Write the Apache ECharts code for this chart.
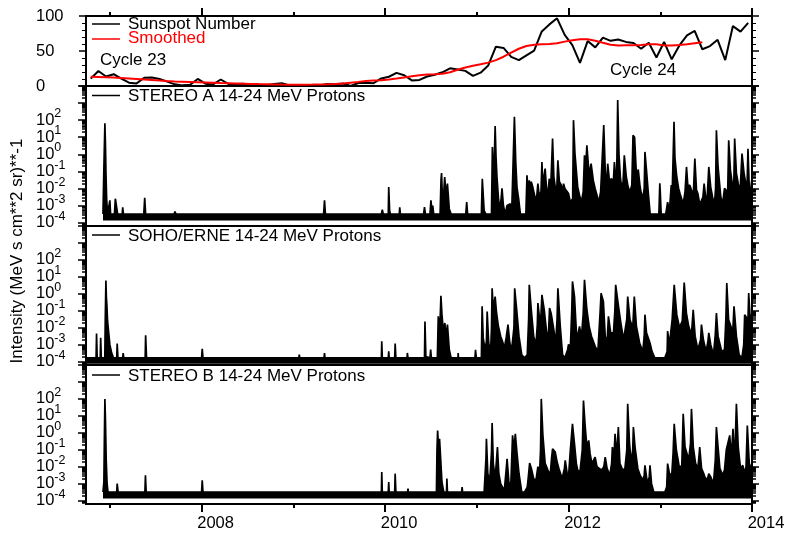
<!DOCTYPE html>
<html>
<head>
<meta charset="utf-8">
<title>Sunspots and 14-24 MeV protons, 2006-2014</title>
<script src="https://cdn.jsdelivr.net/npm/echarts@6/dist/echarts.min.js"></script>
<style>
  html, body { margin: 0; padding: 0; background: #fff; }
  #chart { width: 787px; height: 535px; }
</style>
</head>
<body>
<div id="chart"></div>
<script>
// ---- Monthly sunspot number, Oct 2006 .. Dec 2013 ----
const sunspotStart = 2006 + 9 / 12;            // October 2006
const sunspotMonthly = [
  10.5, 21.4, 13.6,
  16.9, 10.6, 4.8, 3.7, 11.7, 12.0, 10.0, 6.2, 2.4, 0.9, 1.7, 10.1,
  3.3, 2.1, 9.3, 2.9, 2.9, 3.1, 0.5, 0.5, 1.1, 2.9, 4.1, 0.8,
  1.5, 1.4, 0.7, 1.2, 2.9, 2.6, 3.5, 0.0, 4.3, 4.8, 4.1, 10.8,
  13.2, 18.8, 15.4, 8.0, 8.7, 13.6, 16.1, 19.6, 25.2, 23.5, 21.6, 14.5,
  19.0, 29.4, 56.2, 54.4, 41.6, 37.0, 43.8, 50.6, 78.0, 88.0, 96.7, 73.0,
  58.3, 33.1, 64.2, 55.2, 69.0, 64.5, 66.5, 63.0, 61.4, 53.3, 61.8, 40.8,
  62.9, 38.1, 57.9, 72.4, 78.7, 52.5, 57.0, 66.0, 37.0, 85.6, 77.6, 90.3
];
// 13-month smoothed sunspot number, Oct 2006 .. Jun 2013
const smoothedMonthly = [
  13.2, 12.8, 12.4,
  12.0, 11.4, 10.8, 10.1, 9.3, 8.6, 7.9, 7.2, 6.6, 6.2, 5.8, 5.4,
  5.0, 4.6, 4.2, 3.9, 3.6, 3.3, 3.0, 2.7, 2.5, 2.3, 2.0, 1.8,
  1.8, 1.9, 2.0, 2.2, 2.4, 2.8, 3.6, 4.8, 5.9, 7.1, 7.7, 8.3,
  9.3, 10.6, 12.3, 14.0, 15.5, 16.4, 16.7, 17.4, 19.6, 23.2, 26.5, 28.8,
  31.0, 33.4, 36.9, 41.8, 47.6, 53.2, 57.2, 59.0, 59.5, 59.9, 61.1, 63.4,
  65.5, 66.9, 66.8, 64.6, 61.7, 58.9, 57.8, 58.2, 58.1, 58.6, 59.7, 59.6,
  57.9, 58.0, 58.6, 59.5, 61.0, 62.5
];

// ---- 14-24 MeV proton intensity, upper envelope: [decimal year, log10 intensity] ----
// Each panel is filled down to its instrument background floor.
const staFloor = -3.88;
const staLogFlux = [
  [2006.925,-3.5],[2006.935,-0.8],[2006.946,1.82],[2006.952,0.6],[2006.958,-1.2],[2006.965,-2.6],[2006.975,-3.5],
  [2006.995,-3.5],[2007.0,-2.7],[2007.008,-3.5],[2007.05,-3.5],[2007.06,-2.6],[2007.075,-2.65],[2007.085,-3.5],[2007.135,-3.5],[2007.14,-3.1],[2007.148,-3.5],
  [2007.37,-3.5],[2007.38,-2.55],[2007.39,-3.5],
  [2007.7,-3.5],[2007.71,-3.35],[2007.72,-3.5],[2008.87,-3.5],[2008.88,-3.4],[2008.89,-3.5],
  [2009.33,-3.5],[2009.34,-2.7],[2009.35,-3.5],
  [2009.96,-3.5],[2009.97,-3.25],[2009.98,-3.5],[2010.035,-3.5],[2010.04,-1.92],[2010.05,-3.3],[2010.058,-3.5],
  [2010.155,-3.5],[2010.16,-3.1],[2010.167,-3.5],
  [2010.42,-3.5],[2010.43,-3.1],[2010.44,-3.5],[2010.49,-3.5],[2010.5,-2.7],[2010.51,-3.2],[2010.52,-3.0],[2010.53,-3.5],
  [2010.6,-3.5],[2010.61,-1.5],[2010.616,-1.1],[2010.625,-2.5],[2010.64,-2.2],[2010.65,-1.33],[2010.665,-2.4],[2010.68,-1.72],[2010.7,-3.2],[2010.72,-3.5],
  [2010.88,-3.5],[2010.89,-2.8],[2010.9,-3.5],
  [2011.05,-3.5],[2011.06,-1.43],[2011.08,-3.3],[2011.1,-3.5],[2011.16,-3.5],[2011.17,0.43],[2011.18,-1.0],[2011.19,-0.5],[2011.2,1.65],[2011.21,-0.2],[2011.22,-1.33],[2011.235,-2.5],[2011.25,-3.3],[2011.265,-2.6],[2011.275,-2.0],[2011.29,-3.0],[2011.31,-3.5],
  [2011.33,-3.0],[2011.34,-2.9],[2011.366,-2.9],[2011.38,-3.5],[2011.4,-3.5],[2011.41,2.2],[2011.425,-0.5],[2011.438,-1.92],[2011.456,-2.6],[2011.475,-3.49],[2011.5,-3.5],[2011.535,-3.5],[2011.547,-1.23],[2011.56,-2.2],[2011.572,-1.53],[2011.585,-2.0],[2011.594,-1.6],[2011.61,-1.92],[2011.63,-2.4],[2011.65,-2.7],[2011.666,-1.72],[2011.68,-2.4],[2011.7,-2.2],[2011.71,-0.45],[2011.72,-1.8],[2011.745,-0.84],[2011.76,-2.0],[2011.775,-2.3],[2011.79,-1.43],[2011.805,-2.1],[2011.815,-2.2],[2011.826,0.92],[2011.84,-1.3],[2011.855,-1.92],[2011.87,-2.3],[2011.884,-0.35],[2011.9,-1.6],[2011.92,-1.8],[2011.935,-2.2],[2011.946,-1.72],[2011.96,-2.0],[2011.98,-1.92],[2012.0,-2.3],[2012.02,-2.8],[2012.045,-2.6],
  [2012.054,2.0],[2012.07,0.04],[2012.1,-1.92],[2012.12,-2.4],[2012.14,-2.8],[2012.16,-2.2],[2012.174,-0.06],[2012.185,-1.0],[2012.2,0.53],[2012.215,-0.55],[2012.23,-1.2],[2012.246,-0.55],[2012.27,-1.53],[2012.29,-2.0],[2012.31,-2.4],[2012.33,-2.8],[2012.35,-2.2],[2012.37,-2.2],[2012.384,1.71],[2012.4,-0.9],[2012.415,-2.1],[2012.427,-0.55],[2012.445,-1.5],[2012.47,-1.43],[2012.485,-2.0],[2012.5,-0.45],[2012.515,-1.5],[2012.525,-1.2],[2012.536,3.18],[2012.55,0.0],[2012.565,-1.33],[2012.58,-2.0],[2012.595,-1.6],[2012.608,-0.06],[2012.63,-1.33],[2012.65,-1.92],[2012.67,-2.2],[2012.69,-1.8],[2012.703,1.12],[2012.72,1.0],[2012.74,-1.2],[2012.76,-0.9],[2012.78,-1.9],[2012.79,-2.2],[2012.81,-2.6],[2012.825,-2.0],[2012.833,0.14],[2012.85,-0.94],[2012.87,-2.3],[2012.89,-3.5],[2012.985,-3.5],[2012.995,-1.7],[2013.0,-2.2],[2013.01,-3.5],
  [2013.06,-3.5],[2013.08,-2.8],[2013.1,-3.3],[2013.12,-1.8],[2013.13,-2.3],[2013.15,1.9],[2013.16,-0.2],[2013.18,-1.33],[2013.2,-2.0],[2013.215,-2.3],[2013.23,-2.4],[2013.25,-2.9],[2013.27,-2.2],[2013.286,-0.74],[2013.3,-1.8],[2013.322,-1.82],[2013.34,-2.1],[2013.36,-2.4],[2013.377,-0.25],[2013.395,-2.1],[2013.41,-2.3],[2013.43,-2.9],[2013.45,-2.7],[2013.465,-2.5],[2013.478,-1.72],[2013.495,-2.5],[2013.51,-2.7],[2013.529,-0.74],[2013.55,-1.92],[2013.57,-2.5],[2013.59,-3.0],[2013.603,-2.0],[2013.612,1.41],[2013.63,-0.74],[2013.66,-2.5],[2013.68,-2.9],[2013.7,-2.0],[2013.72,-1.92],[2013.735,-2.2],[2013.746,0.82],[2013.765,-0.94],[2013.785,-1.7],[2013.8,-2.2],[2013.811,0.92],[2013.83,-1.1],[2013.85,-1.72],[2013.87,-2.2],[2013.891,0.04],[2013.913,-1.1],[2013.93,-1.2],[2013.945,-2.1],[2013.956,0.33],[2013.97,-1.92],[2013.985,-2.1],[2013.998,-1.5]
];

const sohoFloor = -4.12;
const sohoLogFlux = [
  [2006.74,-3.78],[2006.85,-3.78],[2006.855,-2.35],[2006.862,-3.78],[2006.895,-3.78],[2006.9,-2.59],[2006.907,-3.78],[2006.945,-3.78],[2006.95,-1.5],[2006.957,0.78],[2006.962,-0.2],[2006.967,-0.6],[2006.975,-1.6],[2006.985,-2.16],[2007.0,-3.0],[2007.02,-3.5],[2007.04,-3.78],
  [2007.075,-3.78],[2007.08,-2.94],[2007.088,-3.78],[2007.14,-3.78],[2007.145,-3.5],[2007.152,-3.78],
  [2007.385,-3.78],[2007.39,-2.45],[2007.4,-3.78],
  [2008.0,-3.78],[2008.007,-3.24],[2008.015,-3.78],
  [2009.06,-3.78],[2009.065,-3.59],[2009.07,-3.78],
  [2009.335,-3.78],[2009.34,-3.5],[2009.345,-3.78],
  [2009.96,-3.78],[2009.964,-2.8],[2009.97,-3.78],[2010.035,-3.78],[2010.04,-3.39],[2010.045,-3.78],[2010.105,-3.78],[2010.11,-2.94],[2010.118,-3.78],
  [2010.24,-3.78],[2010.243,-3.49],[2010.25,-3.78],
  [2010.43,-3.78],[2010.435,-1.63],[2010.445,-3.7],[2010.49,-3.78],[2010.497,-3.29],[2010.505,-3.78],
  [2010.57,-3.78],[2010.58,-1.33],[2010.595,-2.4],[2010.609,-0.12],[2010.62,-1.2],[2010.635,-2.2],[2010.652,-1.72],[2010.665,-2.6],[2010.68,-1.82],[2010.7,-3.3],[2010.72,-3.78],
  [2010.795,-3.78],[2010.797,-3.49],[2010.8,-3.78],
  [2010.98,-3.78],[2010.986,-3.3],[2010.995,-3.78],
  [2011.05,-3.78],[2011.058,-0.74],[2011.07,-2.6],[2011.09,-3.3],[2011.105,-2.8],[2011.113,-1.04],[2011.13,-2.9],[2011.15,-3.5],[2011.16,-2.0],[2011.167,0.33],[2011.18,-0.9],[2011.2,-0.16],[2011.215,-1.1],[2011.235,-1.9],[2011.26,-2.5],[2011.28,-2.8],[2011.3,-3.2],[2011.32,-2.6],[2011.34,-1.82],[2011.36,-2.9],[2011.38,-3.3],[2011.405,-2.0],[2011.413,0.33],[2011.435,-0.94],[2011.46,-2.5],[2011.49,-3.6],[2011.52,-3.78],[2011.55,-3.6],[2011.565,-1.5],[2011.572,0.53],[2011.594,-0.94],[2011.62,-2.5],[2011.645,-3.0],[2011.66,-1.8],[2011.666,-0.55],[2011.685,-1.5],[2011.7,-1.2],[2011.71,-0.06],[2011.735,-0.94],[2011.76,-2.2],[2011.78,-2.6],[2011.793,-0.84],[2011.81,-1.14],[2011.836,-2.0],[2011.86,-2.9],[2011.875,-1.5],[2011.884,0.33],[2011.91,-1.92],[2011.935,-3.6],[2011.96,-3.78],[2011.99,-3.3],
  [2012.0,-2.98],[2012.02,-3.2],[2012.035,-1.0],[2012.043,0.73],[2012.065,-0.16],[2012.09,-2.7],[2012.12,-1.92],[2012.14,-2.6],[2012.16,-1.2],[2012.174,0.82],[2012.2,-0.94],[2012.225,-1.92],[2012.25,-2.5],[2012.29,-3.1],[2012.32,-3.4],[2012.345,-1.0],[2012.355,0.04],[2012.38,-0.45],[2012.4,-2.5],[2012.42,-2.9],[2012.435,-1.33],[2012.46,-2.3],[2012.49,-2.3],[2012.505,-1.0],[2012.514,0.53],[2012.54,-0.55],[2012.57,-1.72],[2012.6,-2.7],[2012.635,-1.5],[2012.645,-0.16],[2012.67,-1.53],[2012.7,-2.0],[2012.717,-0.16],[2012.74,-1.92],[2012.775,-2.9],[2012.81,-3.4],[2012.825,-2.5],[2012.833,-1.23],[2012.85,-2.3],[2012.888,-2.9],[2012.91,-3.4],[2012.94,-3.78],
  [2013.05,-3.78],[2013.075,-3.4],[2013.08,-2.2],[2013.1,-3.0],[2013.13,-1.5],[2013.152,0.53],[2013.18,-1.23],[2013.21,-2.0],[2013.24,-1.6],[2013.261,0.67],[2013.285,-1.14],[2013.31,-1.92],[2013.34,-2.4],[2013.359,-0.94],[2013.38,-2.5],[2013.41,-3.3],[2013.44,-2.7],[2013.449,-1.82],[2013.47,-2.7],[2013.5,-3.4],[2013.52,-2.8],[2013.529,-2.3],[2013.55,-3.0],[2013.58,-3.6],[2013.6,-2.4],[2013.612,-1.14],[2013.63,-2.5],[2013.67,-3.4],[2013.7,-3.3],[2013.715,-1.5],[2013.725,0.63],[2013.745,-1.53],[2013.77,-1.92],[2013.79,-2.3],[2013.804,-0.74],[2013.83,-2.5],[2013.86,-3.6],[2013.89,-3.78],[2013.91,-3.0],[2013.92,-1.23],[2013.94,-1.4],[2013.955,-1.8],[2013.964,0.04],[2013.98,-1.5],[2013.998,-1.2]
];

const stbFloor = -3.88;
const stbLogFlux = [
  [2006.925,-3.5],[2006.935,-2.9],[2006.94,-0.5],[2006.946,2.0],[2006.952,0.8],[2006.96,-1.53],[2006.97,-3.0],[2006.98,-3.5],
  [2007.075,-3.5],[2007.08,-3.0],[2007.09,-3.5],
  [2007.382,-3.5],[2007.388,-2.5],[2007.396,-3.5],
  [2008.0,-3.5],[2008.007,-2.8],[2008.015,-3.5],
  [2009.96,-3.5],[2009.964,-2.31],[2009.97,-3.5],[2010.035,-3.5],[2010.04,-2.9],[2010.045,-3.5],[2010.105,-3.5],[2010.11,-2.41],[2010.118,-3.5],
  [2010.245,-3.5],[2010.25,-3.29],[2010.255,-3.5],
  [2010.56,-3.5],[2010.566,-1.0],[2010.573,0.14],[2010.585,-1.0],[2010.594,-0.35],[2010.607,-1.6],[2010.62,-2.9],[2010.64,-3.5],[2010.67,-3.5],[2010.674,-2.7],[2010.68,-3.5],
  [2010.835,-3.5],[2010.84,-3.2],[2010.845,-3.5],
  [2011.08,-3.5],[2011.1,-1.5],[2011.105,-0.35],[2011.12,-2.4],[2011.14,-2.9],[2011.16,-1.2],[2011.167,0.57],[2011.18,-1.8],[2011.2,-2.7],[2011.215,-1.6],[2011.225,-0.84],[2011.24,-2.4],[2011.26,-3.0],[2011.28,-3.2],[2011.3,-3.4],[2011.32,-2.2],[2011.33,-1.53],[2011.35,-2.9],[2011.37,-3.2],[2011.385,-0.9],[2011.39,-0.15],[2011.405,-1.0],[2011.42,-0.06],[2011.435,-1.0],[2011.46,-2.4],[2011.49,-3.5],[2011.52,-3.5],[2011.55,-3.2],[2011.56,-2.7],[2011.576,-1.78],[2011.595,-2.1],[2011.62,-2.7],[2011.645,-2.8],[2011.666,-2.0],[2011.685,-2.3],[2011.695,-1.0],[2011.703,2.0],[2011.72,-0.1],[2011.745,-1.8],[2011.775,-2.2],[2011.8,-2.5],[2011.815,-1.5],[2011.826,-0.94],[2011.855,-1.14],[2011.875,-1.7],[2011.895,-2.1],[2011.93,-2.7],[2011.955,-2.1],[2011.964,-1.62],[2011.985,-2.4],
  [2012.0,-2.6],[2012.02,-1.0],[2012.043,0.53],[2012.065,-0.65],[2012.085,-1.8],[2012.1,-2.2],[2012.125,-2.3],[2012.15,-1.0],[2012.163,1.9],[2012.18,0.5],[2012.2,-0.84],[2012.22,-0.45],[2012.235,-1.23],[2012.255,-1.8],[2012.29,-1.43],[2012.31,-2.0],[2012.335,-2.1],[2012.36,-2.2],[2012.385,-2.0],[2012.4,-1.43],[2012.42,-2.1],[2012.45,-2.5],[2012.47,-1.8],[2012.478,-0.84],[2012.495,-1.5],[2012.507,-0.06],[2012.525,-1.4],[2012.543,0.34],[2012.56,-1.8],[2012.59,-2.2],[2012.615,-2.1],[2012.635,-1.0],[2012.645,1.71],[2012.665,-0.65],[2012.685,-1.8],[2012.7,-1.0],[2012.707,0.34],[2012.725,-0.84],[2012.755,-2.1],[2012.78,-2.5],[2012.81,-2.8],[2012.825,-2.5],[2012.833,-1.92],[2012.86,-3.0],[2012.88,-2.6],[2012.888,-1.92],[2012.905,-3.0],[2012.93,-3.5],
  [2013.05,-3.5],[2013.07,-3.2],[2013.08,-1.82],[2013.1,-2.4],[2013.125,-2.5],[2013.14,-1.2],[2013.152,0.53],[2013.175,-1.0],[2013.21,-2.1],[2013.235,-1.9],[2013.25,1.12],[2013.27,-0.84],[2013.29,-1.2],[2013.31,-1.6],[2013.33,-0.6],[2013.34,1.41],[2013.36,-0.84],[2013.385,-1.8],[2013.41,-2.1],[2013.425,-1.2],[2013.43,-0.84],[2013.45,-2.1],[2013.48,-2.5],[2013.5,-2.8],[2013.52,-2.6],[2013.529,-2.41],[2013.55,-2.6],[2013.58,-3.0],[2013.6,-1.6],[2013.612,0.34],[2013.63,-0.84],[2013.65,-2.1],[2013.68,-2.5],[2013.7,-2.2],[2013.72,-1.0],[2013.74,-0.9],[2013.757,-0.15],[2013.775,-1.43],[2013.793,0.24],[2013.81,-1.8],[2013.83,1.71],[2013.85,-0.84],[2013.875,-2.1],[2013.9,-1.92],[2013.92,-2.4],[2013.935,-2.0],[2013.949,0.43],[2013.97,-1.8],[2013.998,-2.2]
];

// ---- Axis tick labels ----
const yearLabels = [2008, 2010, 2012, 2014];
const oddYears = [2007, 2009, 2011, 2013];
const decadeLabels = [-4, -3, -2, -1, 0, 1, 2];
const decadeTicks = [-4, -3, -2, -1, 0, 1, 2, 3, 4];
const sunspotLabels = [0, 50, 100];

// ---- Layout constants ----
const FONT = '"Liberation Sans", Arial, Helvetica, sans-serif';
const X_MIN = 2006.74, X_MAX = 2014.0;
const LOG_MIN = -4.2, LOG_MAX = 4.0;
const BLACK = '#000';
const LABEL_SIZE = 16.5, EXP_SIZE = 12.5;

// minor ticks of a log10 axis: log10(k) + n, k = 2..9
const minorLogTicks = [];
for (let n = -5; n <= 4; n++) {
  for (let k = 2; k <= 9; k++) {
    const v = n + Math.log10(k);
    if (v > LOG_MIN && v < LOG_MAX) minorLogTicks.push(v);
  }
}

const monthX = (start, i) => start + (i + 0.5) / 12;
const sunspotData = sunspotMonthly.map((v, i) => [monthX(sunspotStart, i), v]);
const smoothedData = smoothedMonthly.map((v, i) => [monthX(sunspotStart, i), v]);

const gridBase = { left: 86, right: 35, show: true, borderColor: BLACK, borderWidth: 2,
  backgroundColor: 'transparent', containLabel: false, outerBoundsMode: 'none' };
const grids = [
  Object.assign({ top: 16, height: 70 }, gridBase),
  Object.assign({ top: 86, height: 140 }, gridBase),
  Object.assign({ top: 226, height: 139 }, gridBase),
  Object.assign({ top: 365, height: 139 }, gridBase)
];

function xTickAxis(gridIndex, position, values, len, labels) {
  return {
    type: 'value', gridIndex, position, min: X_MIN, max: X_MAX,
    axisLine: { show: false, onZero: false }, splitLine: { show: false },
    axisTick: { show: true, customValues: values, length: len, lineStyle: { color: BLACK, width: 2 } },
    axisLabel: labels ? {
      show: true, customValues: labels, formatter: v => String(Math.round(v)), hideOverlap: false,
      fontSize: LABEL_SIZE, fontFamily: FONT, color: BLACK, margin: 11, padding: [0, 0, 0, 28]
    } : { show: false }
  };
}
const xAxes = [
  xTickAxis(0, 'top', yearLabels, 8, null),
  xTickAxis(0, 'top', oddYears, 4, null),
  { type: 'value', gridIndex: 1, min: X_MIN, max: X_MAX, show: false, axisLine: { onZero: false } },
  { type: 'value', gridIndex: 2, min: X_MIN, max: X_MAX, show: false, axisLine: { onZero: false } },
  xTickAxis(3, 'bottom', yearLabels, 8, yearLabels),
  xTickAxis(3, 'bottom', oddYears, 4, null)
];

const tickStyle = { color: BLACK, width: 1.5 };
function sunspotAxis(position, withLabels) {
  return {
    type: 'value', gridIndex: 0, position, min: 0, max: 100, interval: 50,
    axisLine: { show: false, onZero: false }, splitLine: { show: false },
    axisTick: { show: true, length: 7, lineStyle: tickStyle },
    minorTick: { show: true, splitNumber: 5, length: 4, lineStyle: { color: BLACK, width: 1 } },
    axisLabel: withLabels ? {
      show: true, customValues: sunspotLabels, align: 'left', margin: 50, hideOverlap: false,
      fontSize: LABEL_SIZE, fontFamily: FONT, color: BLACK
    } : { show: false }
  };
}

// Decade labels "10^n" are split over two overlaid axes: the major-tick axis
// writes the base "10", the minor-tick axis writes the exponent, anchored by
// its bottom edge at the decade so that it sits raised after the base.
const baseWidth = 2 * 0.556 * LABEL_SIZE;        // advance of "10"
function logAxis(gridIndex, position, ticks, len, labelKind) {
  let axisLabel = { show: false };
  if (labelKind === 'base') {
    axisLabel = {
      show: true, customValues: decadeLabels, align: 'left', margin: 50, hideOverlap: false,
      formatter: () => '10', fontSize: LABEL_SIZE, fontFamily: FONT, color: BLACK, lineHeight: 15
    };
  } else if (labelKind === 'exponent') {
    axisLabel = {
      show: true, customValues: decadeLabels, align: 'left', verticalAlign: 'bottom',
      margin: 50 - baseWidth, hideOverlap: false,
      formatter: v => String(Math.round(v)), fontSize: EXP_SIZE, fontFamily: FONT, color: BLACK, lineHeight: 12.5
    };
  }
  return {
    type: 'value', gridIndex, position, min: LOG_MIN, max: LOG_MAX,
    axisLine: { show: false, onZero: false }, splitLine: { show: false },
    axisTick: { show: true, customValues: ticks, length: len, lineStyle: tickStyle },
    axisLabel
  };
}
const yAxes = [sunspotAxis('left', true), sunspotAxis('right', false)];
for (let g = 1; g <= 3; g++) {
  yAxes.push(logAxis(g, 'left', decadeTicks, 8, 'base'));
  yAxes.push(logAxis(g, 'left', minorLogTicks, 4, 'exponent'));
  yAxes.push(logAxis(g, 'right', decadeTicks, 7, null));
  yAxes.push(logAxis(g, 'right', minorLogTicks, 4, null));
}

function lineSeries(name, data, xi, yi, color, width, z) {
  return {
    type: 'line', name, data, xAxisIndex: xi, yAxisIndex: yi,
    showSymbol: false, symbol: 'none', silent: true, z,
    lineStyle: { color, width }
  };
}
function fluxSeries(name, data, xi, yi, floor) {
  const s = lineSeries(name, data, xi, yi, BLACK, 1.7, 3);
  s.areaStyle = { color: BLACK, opacity: 1, origin: floor };
  return s;
}
const series = [
  lineSeries('Sunspot Number', sunspotData, 0, 0, BLACK, 2, 2),
  lineSeries('Smoothed', smoothedData, 0, 0, '#ff0000', 2, 3),
  fluxSeries('STEREO A 14-24 MeV Protons', staLogFlux, 2, 2, staFloor),
  fluxSeries('SOHO/ERNE 14-24 MeV Protons', sohoLogFlux, 3, 6, sohoFloor),
  fluxSeries('STEREO B 14-24 MeV Protons', stbLogFlux, 4, 10, stbFloor)
];

function keyLine(y, color) {
  return { type: 'line', shape: { x1: 92, y1: y, x2: 120, y2: y }, style: { stroke: color, lineWidth: 1.5 }, z: 10 };
}
function label(x, y, text, color) {
  return { type: 'text', x, y, z: 10,
    style: { text, fill: color, fontSize: 17, fontFamily: FONT, verticalAlign: 'middle', align: 'left' } };
}
const graphic = [
  keyLine(24, BLACK), label(128, 24, 'Sunspot Number', BLACK),
  keyLine(39, '#ff0000'), label(128, 38, 'Smoothed', '#ff0000'),
  label(100, 60, 'Cycle 23', BLACK),
  label(610, 70, 'Cycle 24', BLACK),
  keyLine(95.5, BLACK), label(128, 96.5, 'STEREO A 14-24 MeV Protons', BLACK),
  keyLine(235, BLACK), label(128, 236.5, 'SOHO/ERNE 14-24 MeV Protons', BLACK),
  keyLine(375, BLACK), label(128, 376.5, 'STEREO B 14-24 MeV Protons', BLACK),
  { type: 'text', x: 17, y: 251, rotation: Math.PI / 2, z: 10,
    style: { text: 'Intensity (MeV s cm**2 sr)**-1', fill: BLACK, fontSize: 17, fontFamily: FONT,
             align: 'center', verticalAlign: 'middle' } }
];

const chart = echarts.init(document.getElementById('chart'), null, { renderer: 'canvas' });
chart.setOption({
  animation: false,
  backgroundColor: '#fff',
  grid: grids,
  xAxis: xAxes,
  yAxis: yAxes,
  series,
  graphic
});
</script>
</body>
</html>
